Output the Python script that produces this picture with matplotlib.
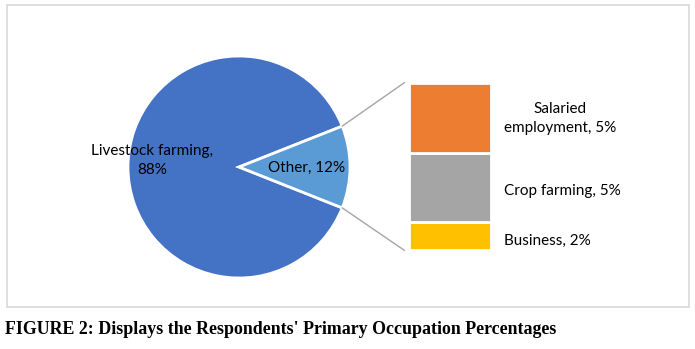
import matplotlib
matplotlib.use("Agg")
import matplotlib.pyplot as plt
from matplotlib.patches import Rectangle, ConnectionPatch
from matplotlib.transforms import offset_copy
import numpy as np

# Data
pie_labels = ["Livestock farming", "Other"]
pie_values = [88, 12]
pie_colors = ["#4472C4", "#5B9BD5"]

bar_labels = ["Business", "Crop farming", "Salaried\nemployment"]
bar_values = [2, 5, 5]
bar_colors = ["#FFC000", "#A5A5A5", "#ED7D31"]

caption = "FIGURE 2: Displays the Respondents' Primary Occupation Percentages"

W, H = 695, 349
fig = plt.figure(figsize=(W / 100, H / 100), dpi=100)
LBL_FONT = ["Lato", "DejaVu Sans"]

def fr(x0, y0, w, h):
    # pixel box (top-left origin) -> figure fraction rect
    return [x0 / W, (H - y0 - h) / H, w / W, h / H]

# Border
fig.patches.append(Rectangle((7 / W, (H - 307) / H), (689 - 7) / W, (307 - 5) / H,
                             transform=fig.transFigure, fill=False,
                             edgecolor="#D9D9D9", linewidth=1.2))

# Pie
r = 111
cx, cy = 239, 167
axp = fig.add_axes(fr(cx - r, cy - r, 2 * r, 2 * r))
total = sum(pie_values)
start = pie_values[1] / total * 360 / 2
wedges, _ = axp.pie(pie_values, colors=pie_colors, startangle=start, counterclock=True,
                    wedgeprops=dict(edgecolor="white", linewidth=2))
axp.set_xlim(-1, 1)
axp.set_ylim(-1, 1)
axp.set_aspect("equal")
axp.axis("off")

axp.text(-0.78, 0.06, f"{pie_labels[0]},\n{pie_values[0]}%", ha="center", va="center",
         fontsize=11, family=LBL_FONT, color="#000000", linespacing=1.5)
axp.text(0.61, -0.01, f"{pie_labels[1]}, {pie_values[1]}%", ha="center", va="center",
         fontsize=11, family=LBL_FONT, color="#000000")

# Bar
axb = fig.add_axes(fr(408.6, 82.6, 82.8, 167.8))
bottom = 0
for lab, val, col in zip(bar_labels, bar_values, bar_colors):
    axb.bar(0, val, bottom=bottom, width=1, color=col, edgecolor="white", linewidth=2)
    dy = -1 if "\n" in lab else -4
    tr = offset_copy(axb.transData, fig=fig, x=0, y=dy, units="dots")
    axb.text(0.65, bottom + val / 2, f"{lab}, {val}%", ha="left", va="center",
             multialignment="center", fontsize=11, family=LBL_FONT, clip_on=False,
             linespacing=1.5, transform=tr)
    bottom += val
axb.set_xlim(-0.5, 0.5)
axb.set_ylim(0, sum(bar_values))
axb.axis("off")

# Connector lines
theta = np.deg2rad(pie_values[1] / total * 360 / 2)
for sgn, yb in [(1, sum(bar_values)), (-1, 0)]:
    con = ConnectionPatch(xyA=(np.cos(theta), sgn * np.sin(theta)), coordsA=axp.transData,
                          xyB=(-0.55, yb), coordsB=axb.transData,
                          color="#A5A5A5", linewidth=1)
    fig.add_artist(con)

fig.text(5 / W, (H - 329) / H, caption, ha="left", va="center",
         fontsize=12.9, fontweight="bold", family=["Liberation Serif"])

fig.savefig("out.png", dpi=100)
